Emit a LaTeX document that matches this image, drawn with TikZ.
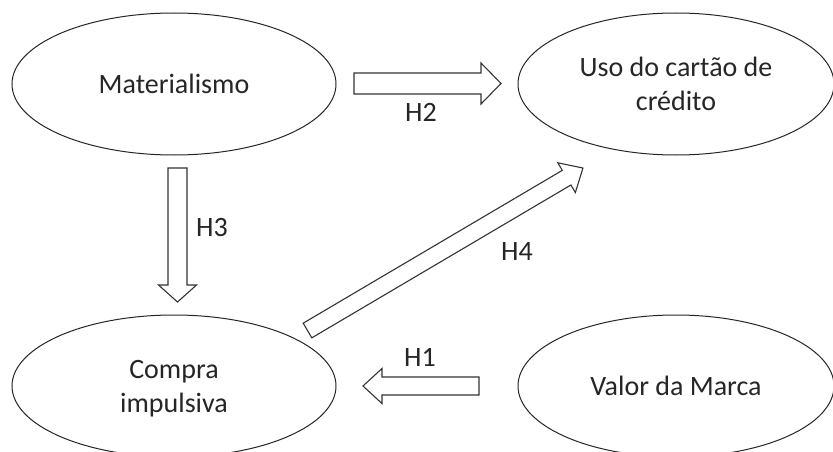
\documentclass[tikz,border=0pt]{standalone}
\usepackage{fontspec}
\setmainfont{Carlito}
\usetikzlibrary{shapes.geometric}
\makeatletter
\newcommand{\blockarrow}[5]{%
  \pgfmathanglebetweenpoints{\pgfpointanchor{#1}{center}}{\pgfpointanchor{#2}{center}}%
  \let\baAngle\pgfmathresult
  \pgfpointdiff{\pgfpointanchor{#1}{center}}{\pgfpointanchor{#2}{center}}%
  \edef\baDX{\the\pgf@x}\edef\baDY{\the\pgf@y}%
  \pgfmathveclen{\baDX}{\baDY}\let\baLen\pgfmathresult
  \pgfmathsetmacro\baBase{\baLen-#5}%
  \begin{scope}[shift={(#1)},rotate=\baAngle]
    \draw[blockarrowline] (0pt,-#3pt) -- (\baBase pt,-#3pt) -- (\baBase pt,-#4pt) -- (\baLen pt,0pt) -- (\baBase pt,#4pt) -- (\baBase pt,#3pt) -- (0pt,#3pt) -- cycle;
  \end{scope}%
}
\makeatother
\tikzset{
  construct/.style={ellipse, draw=black!85, line width=1pt, fill=white,
    minimum height=142pt, align=center, inner sep=0pt,
    font=\fontsize{28}{34}\selectfont, text=black!85, text depth=0pt},
  hyp/.style={font=\fontsize{28}{34}\selectfont, text=black!85, inner sep=0pt},
  blockarrowline/.style={draw=black!80, line width=1.1pt, fill=white, line join=miter},
}
\begin{document}
\begin{tikzpicture}[x=1pt,y=-1pt]
\useasboundingbox (0,0) rectangle (833,452);
\clip (0,0) rectangle (833,452);
\fill[white] (0,0) rectangle (833,452);
% constructs
\node[construct, minimum width=324pt] (mat) at (174,84) {Materialismo};
\node[construct, minimum width=316pt] (uso) at (676,84) {Uso do cartão de\\crédito};
\node[construct, minimum width=324pt] (comp) at (174,386) {Compra\\impulsiva};
\node[construct, minimum width=316pt] (val) at (676,386) {Valor da Marca};
% arrow ends
\coordinate (h2s) at (354,83.5);
\coordinate (h2e) at (501,83.5);
\coordinate (h3s) at (177.5,168);
\coordinate (h3e) at (177.5,302);
\coordinate (h1s) at (479,386);
\coordinate (h1e) at (363,386);
\coordinate (h4s) at (307.5,330.5);
\coordinate (h4e) at (583,168);
\blockarrow{h2s}{h2e}{10.5}{20.5}{20}
\blockarrow{h3s}{h3e}{9.5}{19}{17}
\blockarrow{h1s}{h1e}{9}{17.5}{19}
\blockarrow{h4s}{h4e}{8.5}{17.25}{19}
% labels
\node[hyp] (l2) at (421,112) {H2};
\node[hyp] (l3) at (212,228) {H3};
\node[hyp] (l1) at (420,357) {H1};
\node[hyp] (l4) at (517,252) {H4};
\end{tikzpicture}
\end{document}
